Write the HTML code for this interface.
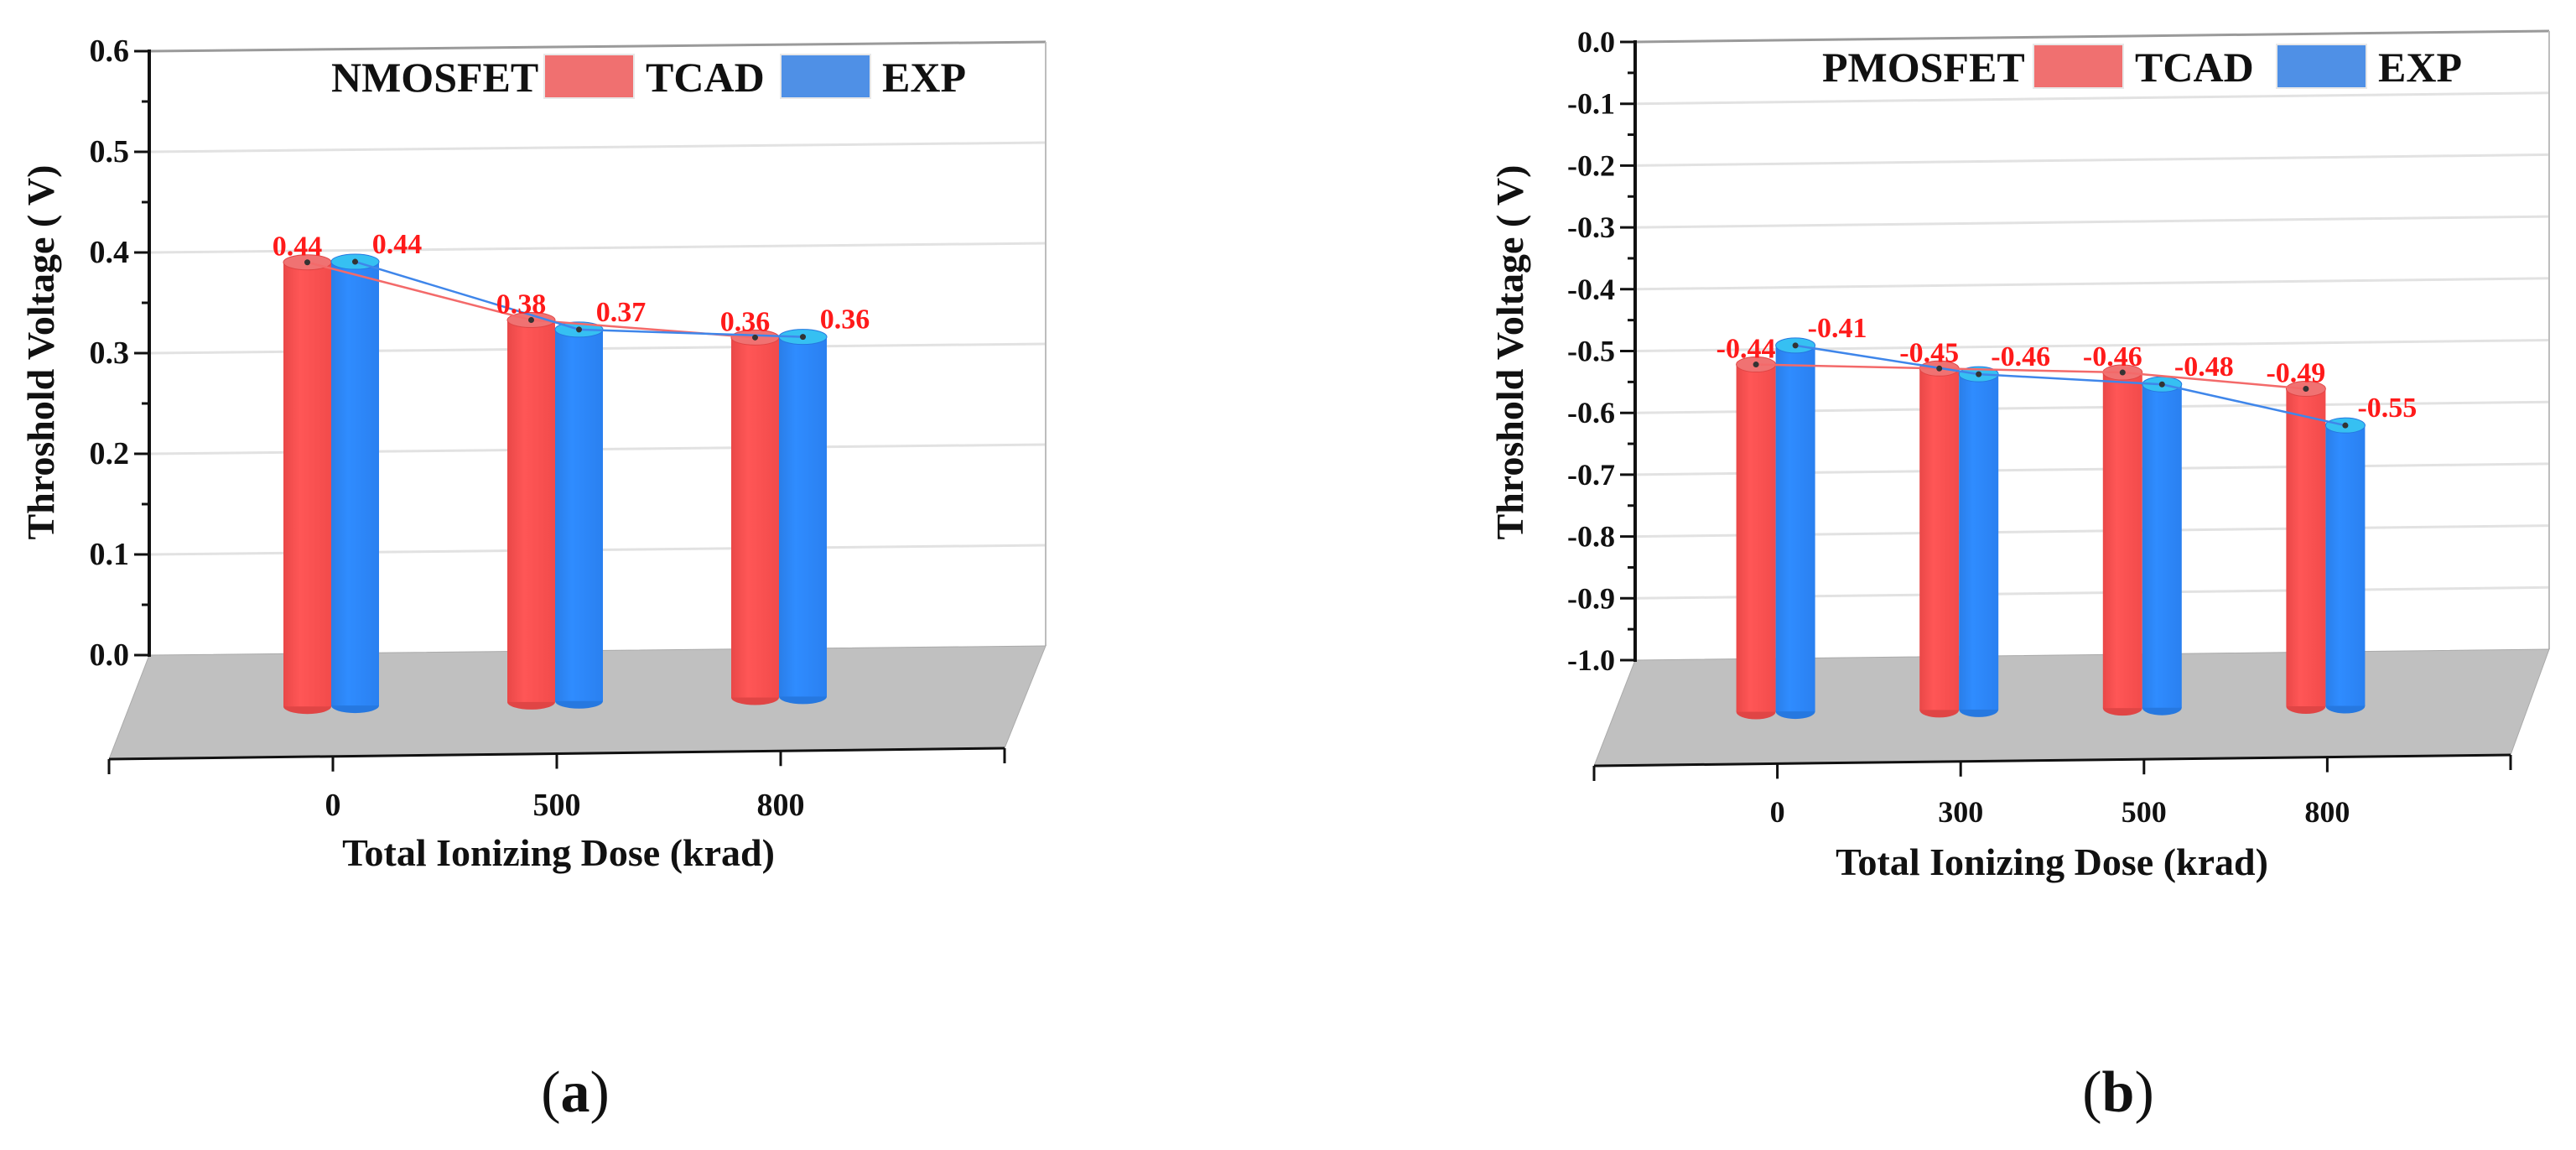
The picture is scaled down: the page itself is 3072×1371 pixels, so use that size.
<!DOCTYPE html>
<html><head><meta charset="utf-8"><style>
html,body{margin:0;padding:0;background:#fff;}
svg{display:block;font-family:"Liberation Serif",serif;}
</style></head><body>
<svg id="fig" width="3072" height="1371" viewBox="0 0 3072 1371" xmlns="http://www.w3.org/2000/svg">
<defs>
<linearGradient id="gRed" x1="0" x2="1" y1="0" y2="0"><stop offset="0" stop-color="#e94848"/><stop offset="0.35" stop-color="#ff5656"/><stop offset="1" stop-color="#f24b4b"/></linearGradient>
<linearGradient id="gBlue" x1="0" x2="1" y1="0" y2="0"><stop offset="0" stop-color="#2a7ee8"/><stop offset="0.35" stop-color="#2f8cff"/><stop offset="1" stop-color="#2a80f0"/></linearGradient>
</defs>
</svg>
<script>
// ---- data (a) NMOSFET ----
const catsA = ['0', '500', '800'];
const tcadA = [0.44, 0.38, 0.36];
const expA = [0.44, 0.37, 0.36];
const yTicksA = [0.0, 0.1, 0.2, 0.3, 0.4, 0.5, 0.6];
const yLabelsA = ['0.0', '0.1', '0.2', '0.3', '0.4', '0.5', '0.6'];
// ---- data (b) PMOSFET ----
const catsB = ['0', '300', '500', '800'];
const tcadB = [-0.44, -0.45, -0.46, -0.49];
const expB = [-0.41, -0.46, -0.48, -0.55];
const yTicksB = [-1.0, -0.9, -0.8, -0.7, -0.6, -0.5, -0.4, -0.3, -0.2, -0.1, 0.0];
const yLabelsB = ['-1.0', '-0.9', '-0.8', '-0.7', '-0.6', '-0.5', '-0.4', '-0.3', '-0.2', '-0.1', '0.0'];

const NS = 'http://www.w3.org/2000/svg';
const svg = document.getElementById('fig');
function mk(tag, attrs, parent, text) {
  const e = document.createElementNS(NS, tag);
  for (const k in attrs) e.setAttribute(k, attrs[k]);
  if (text !== undefined) e.textContent = text;
  (parent || svg).appendChild(e);
  return e;
}

function drawChart(cfg) {
  const g = mk('g', {});
  
  
  const ax = cfg.axisX, yMin = cfg.yMin, yMax = cfg.yMax;
  const y = v => cfg.yBottom - (v - yMin) / (yMax - yMin) * (cfg.yBottom - cfg.yTop);
  const rightX = cfg.wallRight, slant = cfg.slant;
  cfg.ticks.forEach((t, i) => {
    const yy = y(t);
    if (i > 0) {
      const gl = mk('line', {x1: ax, y1: yy, x2: rightX, y2: yy - slant, stroke: i === cfg.ticks.length - 1 ? '#9a9a9a' : '#e2e2e2', 'stroke-width': 3}, g);
      
      
    }
  });
  const we = mk('line', {x1: rightX, y1: y(yMax) - slant, x2: rightX, y2: y(yMin) - slant, stroke: '#bdbdbd', 'stroke-width': 2}, g);
  
  
  const f = cfg.floor;
  const fl = mk('polygon', {points: `${ax},${y(yMin)} ${rightX},${y(yMin) - slant} ${f.brx},${f.bry} ${f.blx},${f.bly}`, fill: '#c0c0c0', stroke: '#aaaaaa', 'stroke-width': 1}, g);
  
  
  const xa = mk('line', {x1: f.blx, y1: f.bly, x2: f.brx, y2: f.bry, stroke: '#111', 'stroke-width': 3}, g);
  
  
  const n = cfg.cats.length;
  const fx = t => f.blx + (f.brx - f.blx) * t;
  const fy = t => f.bly + (f.bry - f.bly) * t;
  for (let i = 0; i <= n + 1; i++) {
    const t = i / (n + 1);
    const tk = mk('line', {x1: fx(t), y1: fy(t), x2: fx(t), y2: fy(t) + 18, stroke: '#111', 'stroke-width': 3}, g);
    
    
  }
  cfg.cats.forEach((c, i) => {
    const t = (i + 1) / (n + 1);
    const lb = mk('text', {x: fx(t), y: cfg.xLabelY, 'text-anchor': 'middle', 'font-size': cfg.tickFont, 'font-weight': 'bold', fill: '#111'}, g, c);
    
    
  });
  const xt = mk('text', {x: cfg.xTitleX, y: cfg.xTitleY, 'text-anchor': 'middle', 'font-size': 46, 'font-weight': 'bold', fill: '#111'}, g, 'Total Ionizing Dose (krad)');
  
  
  const ya = mk('line', {x1: ax, y1: y(yMax) - 2, x2: ax, y2: y(yMin) + 2, stroke: '#111', 'stroke-width': 4}, g);
  
  
  cfg.ticks.forEach((t, i) => {
    const yy = y(t);
    const tk = mk('line', {x1: ax - 18, y1: yy, x2: ax, y2: yy, stroke: '#111', 'stroke-width': 3}, g);
    
    
    if (i < cfg.ticks.length - 1) {
      const ym = y(t + (cfg.ticks[1] - cfg.ticks[0]) / 2);
      const mt = mk('line', {x1: ax - 9, y1: ym, x2: ax, y2: ym, stroke: '#111', 'stroke-width': 3}, g);
      
      
    }
    const lb = mk('text', {x: ax - 24, y: yy + 12, 'text-anchor': 'end', 'font-size': cfg.tickFont, 'font-weight': 'bold', fill: '#111'}, g, cfg.labels[i]);
    
    
  });
  const yt = mk('text', {x: 0, y: 0, transform: `translate(${cfg.yTitleX},${cfg.yTitleY}) rotate(-90)`, 'text-anchor': 'middle', 'font-size': 46, 'font-weight': 'bold', fill: '#111'}, g, 'Throshold Voltage ( V)');
  
  
  const hw = cfg.barW / 2, ry = 9;
  const tops = {r: [], b: []};
  cfg.cats.forEach((c, i) => {
    const gc = fx((i + 1) / (n + 1)) - 2;
    [['r', cfg.tcad[i], -hw, 'url(#gRed)', '#f07272', '#e04545'], ['b', cfg.exp[i], hw, 'url(#gBlue)', '#36c0f2', '#2678e0']].forEach(s => {
      const cx = gc + s[2];
      const top = y(s[1]) + cfg.off0 - cfg.offSlope * (cx - ax);
      const bot = cfg.bot0 - cfg.botSlope * (cx - ax);
      tops[s[0]].push([cx, top, s[1]]);
      const bg = mk('g', {}, g);
      
      
      mk('ellipse', {cx: cx, cy: bot, rx: hw, ry: ry, fill: s[5]}, bg);
      mk('rect', {x: cx - hw, y: top, width: cfg.barW, height: bot - top, fill: s[3]}, bg);
      mk('ellipse', {cx: cx, cy: top, rx: hw, ry: ry, fill: s[4], stroke: s[5], 'stroke-width': 1}, bg);
    });
  });
  [['r', '#f36a6a'], ['b', '#3f86ea']].forEach(s => {
    const pts = tops[s[0]].map(p => p[0] + ',' + p[1]).join(' ');
    const pl = mk('polyline', {points: pts, fill: 'none', stroke: s[1], 'stroke-width': 2.5}, g);
    
    
  });
  ['r', 'b'].forEach(k => tops[k].forEach(p => {
    const d = mk('circle', {cx: p[0], cy: p[1], r: 3.5, fill: '#333'}, g);
    
    
    const lx = k === 'r' ? p[0] - 12 : p[0] + 50;
    const ly = p[1] - (k === 'r' ? 8 : 10);
    const t = mk('text', {x: lx, y: ly, 'text-anchor': 'middle', 'font-size': 34, 'font-weight': 'bold', fill: '#ff1a1a'}, g, p[2].toFixed(2));
    
    
  }));
  const L = cfg.legend;
  const lg = mk('g', {}, g);
  
  
  const lt = mk('text', {x: L.x0, y: L.y + 18, 'font-size': 50, 'font-weight': 'bold', fill: '#111'}, lg, cfg.device);
  
  
  const r1 = mk('rect', {x: L.rx, y: L.y - 26, width: 107, height: 52, fill: '#f07070', stroke: '#e8e8e8', 'stroke-width': 2}, lg);
  
  
  const t1 = mk('text', {x: L.rx + 121, y: L.y + 18, 'font-size': 50, 'font-weight': 'bold', fill: '#111'}, lg, 'TCAD');
  
  
  const r2 = mk('rect', {x: L.bx, y: L.y - 26, width: 107, height: 52, fill: '#4f90e6', stroke: '#e8e8e8', 'stroke-width': 2}, lg);
  
  
  const t2 = mk('text', {x: L.bx + 121, y: L.y + 18, 'font-size': 50, 'font-weight': 'bold', fill: '#111'}, lg, 'EXP');
  
  
  const pl = mk('text', {x: cfg.panelX, y: 1325, 'text-anchor': 'middle', 'font-size': 70, fill: '#111'}, g, '');
  
  
  mk('tspan', {}, pl, '(');
  mk('tspan', {'font-weight': 'bold'}, pl, cfg.panel);
  mk('tspan', {}, pl, ')');
}

drawChart({
  name: 'chart-a-nmosfet', device: 'NMOSFET', panel: 'a', panelX: 686,
  cats: catsA, tcad: tcadA, exp: expA, ticks: yTicksA, labels: yLabelsA,
  yMin: 0, yMax: 0.6, yTop: 61, yBottom: 781, axisX: 178, wallRight: 1247, slant: 11,
  floor: {blx: 130, bly: 905, brx: 1198, bry: 892},
  xLabelY: 972, xTitleX: 666, xTitleY: 1032, yTitleX: 64, yTitleY: 420, tickFont: 38,
  barW: 57, off0: 62, offSlope: 0.012, bot0: 846, botSlope: 0.02,
  legend: {x0: 395, rx: 649, bx: 931, y: 91}
});
drawChart({
  name: 'chart-b-pmosfet', device: 'PMOSFET', panel: 'b', panelX: 2526,
  cats: catsB, tcad: tcadB, exp: expB, ticks: yTicksB, labels: yLabelsB,
  yMin: -1.0, yMax: 0.0, yTop: 50, yBottom: 787, axisX: 1950, wallRight: 3040, slant: 13,
  floor: {blx: 1901, bly: 913, brx: 2994, bry: 900},
  xLabelY: 980, xTitleX: 2447, xTitleY: 1043, yTitleX: 1816, yTitleY: 420, tickFont: 36,
  barW: 47, off0: 62, offSlope: 0.012, bot0: 850, botSlope: 0.01,
  legend: {x0: 2173, rx: 2425, bx: 2715, y: 79}
});
</script>
</body></html>
